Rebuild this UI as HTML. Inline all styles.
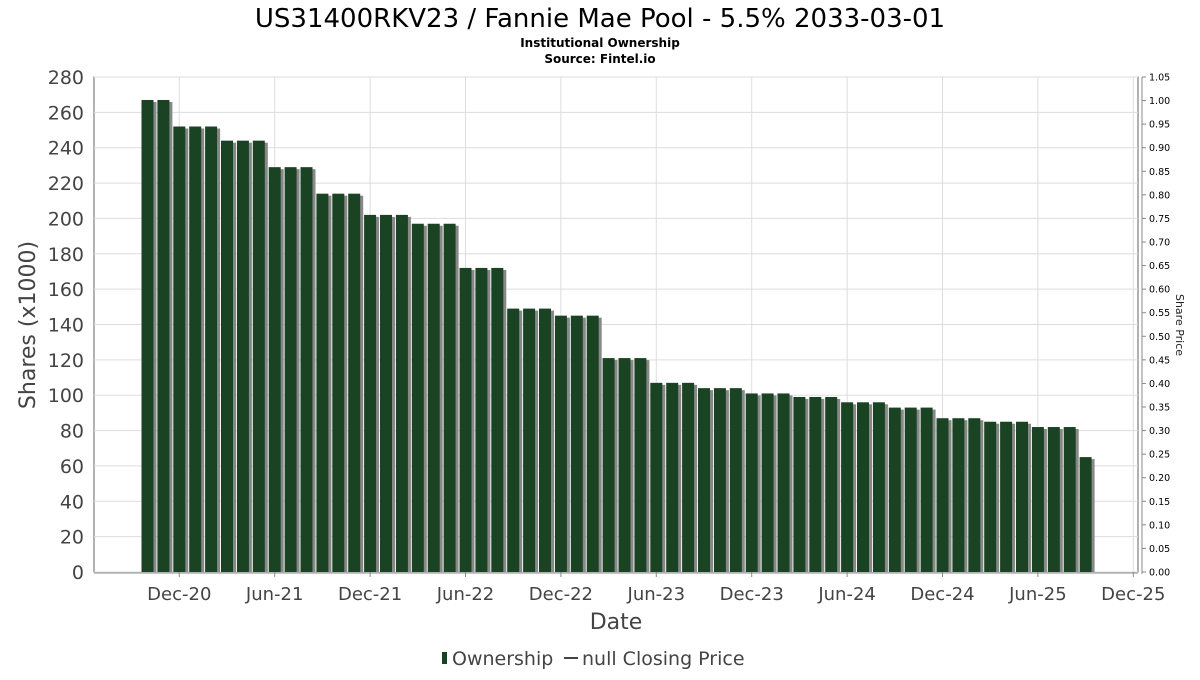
<!DOCTYPE html>
<html><head><meta charset="utf-8"><style>
body{margin:0;background:#fff;}
svg text{font-family:"DejaVu Sans","Liberation Sans",sans-serif;}
</style></head><body>
<svg id="chart" width="1200" height="675" xmlns="http://www.w3.org/2000/svg">
<text x="600" y="27" font-size="26" text-anchor="middle" fill="#000">US31400RKV23 / Fannie Mae Pool - 5.5% 2033-03-01</text>
<text x="600" y="47" font-size="12" font-weight="bold" text-anchor="middle">Institutional Ownership</text>
<text x="600" y="63" font-size="12" font-weight="bold" text-anchor="middle">Source: Fintel.io</text>
<g id="grid"></g>
<g id="bars"></g>
<g id="axes"></g>
<text x="616" y="629" font-size="22" fill="#444" text-anchor="middle">Date</text>
<text transform="translate(35,325) rotate(-90)" font-size="22" fill="#444" text-anchor="middle">Shares (x1000)</text>
<text transform="translate(1176,325) rotate(90)" font-size="11" fill="#222" text-anchor="middle">Share Price</text>
<g>
<rect x="442" y="652" width="5" height="12" fill="#1a4324"/>
<text x="452" y="665" font-size="19" fill="#444">Ownership</text>
<line x1="564" y1="658" x2="578" y2="658" stroke="#444" stroke-width="2"/>
<text x="582" y="665" font-size="19" fill="#444">null Closing Price</text>
</g>
</svg>
<script>
const values=[267,267,252,252,252,244,244,244,229,229,229,214,214,214,202,202,202,197,197,197,172,172,172,149,149,149,145,145,145,121,121,121,107,107,107,104,104,104,101,101,101,99,99,99,96,96,96,93,93,93,87,87,87,85,85,85,82,82,82,65];
const yTicks=[0,20,40,60,80,100,120,140,160,180,200,220,240,260,280];
const rTicks=["0.00","0.05","0.10","0.15","0.20","0.25","0.30","0.35","0.40","0.45","0.50","0.55","0.60","0.65","0.70","0.75","0.80","0.85","0.90","0.95","1.00","1.05"];
const xTicks=["Dec-20","Jun-21","Dec-21","Jun-22","Dec-22","Jun-23","Dec-23","Jun-24","Dec-24","Jun-25","Dec-25"];
const NS="http://www.w3.org/2000/svg";
const L=94,R=1138,T=77,B=572;
const y=v=>B-v*(B-T)/280;
const yr=v=>B-v*(B-T)/1.05;
// month index 0 = Oct-20
const x=m=>147.5+m*15.9;
const xTickMonth=i=>2+i*6;
function mk(tag,attrs,parent){const e=document.createElementNS(NS,tag);for(const k in attrs)e.setAttribute(k,attrs[k]);parent.appendChild(e);return e;}
const grid=document.getElementById('grid'),bars=document.getElementById('bars'),axes=document.getElementById('axes');
mk('rect',{x:L,y:T,width:R-L,height:B-T,fill:'none',stroke:'#666','stroke-width':1},grid);
yTicks.forEach(v=>{
  const l=mk('line',{x1:L,x2:R,y1:y(v),y2:y(v),stroke:'#ddd'},grid);
  
  
  const t=mk('text',{x:84,y:y(v)+7,'font-size':19,fill:'#444','text-anchor':'end'},axes);
  t.textContent=v;
  
  
});
xTicks.forEach((s,i)=>{
  const xx=x(xTickMonth(i));
  const l=mk('line',{x1:xx,x2:xx,y1:T,y2:B,stroke:'#ddd'},grid);
  
  
  mk('line',{x1:xx,x2:xx,y1:B,y2:B+5,stroke:'#888'},axes);
  const t=mk('text',{x:xx,y:600,'font-size':18,fill:'#444','text-anchor':'middle'},axes);
  t.textContent=s;
  
  
});
rTicks.forEach(s=>{
  const v=parseFloat(s);
  mk('line',{x1:1142,x2:1146,y1:yr(v),y2:yr(v),stroke:'#888'},axes);
  const t=mk('text',{x:1149,y:yr(v)+3.5,'font-size':9.5,fill:'#000'},axes);
  t.textContent=s;
  
  
});
mk('line',{x1:1142,x2:1142,y1:T,y2:B+2,stroke:'#888'},axes);
mk('line',{x1:L,x2:R,y1:B+1,y2:B+1,stroke:'#888'},axes);
values.forEach((v,i)=>{
  const cx=x(i),top=y(v);
  const s=mk('rect',{x:cx-6+3,y:top+2,width:12,height:B-top-2,fill:'#888'},bars);
  
  
  const b=mk('rect',{x:cx-6,y:top,width:12,height:B-top,fill:'#1a4324'},bars);
  
  
});
</script>
</body></html>
